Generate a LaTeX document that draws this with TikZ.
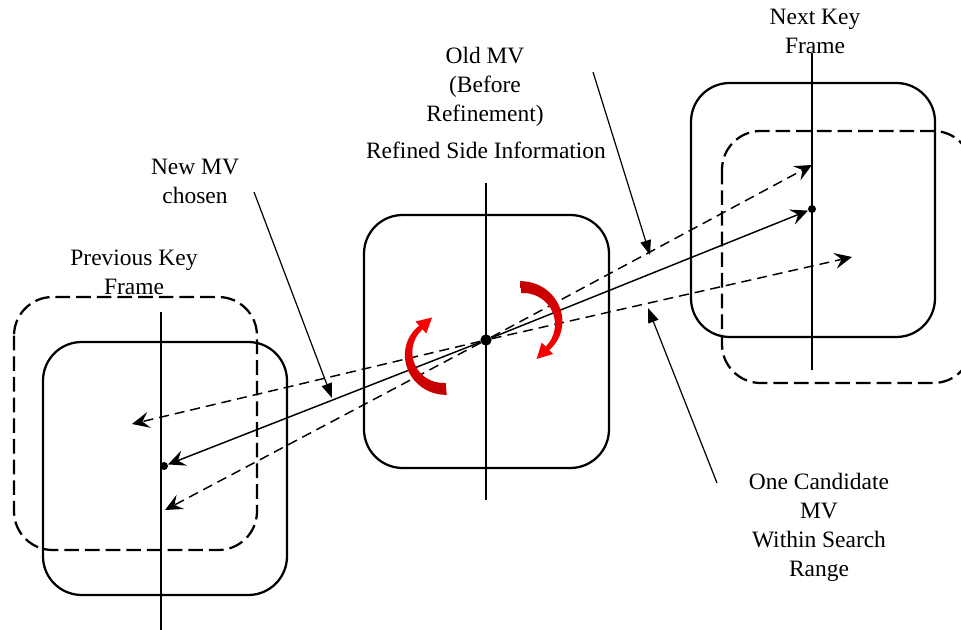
\documentclass[tikz,border=0pt]{standalone}
\usepackage{fontspec}
\setmainfont{Liberation Serif}
\usetikzlibrary{arrows.meta,calc}
\definecolor{arrowdark}{RGB}{192,0,0}
\definecolor{arrowbright}{RGB}{255,0,0}
\begin{document}
\begin{tikzpicture}[x=0.75pt,y=-0.75pt,
  framebox/.style={line width=1.7pt, rounded corners=29pt},
  dashbox/.style={framebox, dash pattern=on 11pt off 4.5pt},
  axisline/.style={line width=0.9pt},
  mvline/.style={line width=1.1pt, -{Stealth[length=13pt,width=12pt,inset=5pt]}},
  mvdash/.style={mvline, dash pattern=on 7.5pt off 4.5pt},
  pointer/.style={line width=0.9pt, -{Triangle[length=11pt,width=8pt]}},
  dot/.style={circle, fill=black, inner sep=0pt, minimum size=#1},
  lbl/.style={font=\fontsize{17.6pt}{21.75pt}\selectfont, align=center, inner sep=0pt}
]
\useasboundingbox (0,0) rectangle (961,630);
\clip (0,0) rectangle (961,630);

% key frames and the side-information block
\draw[dashbox]  (14,297) rectangle (257,550);
\draw[framebox] (43,342) rectangle (287,595);
\draw[framebox] (364,215) rectangle (609,468);
\draw[framebox] (691,83) rectangle (935,337);
\draw[dashbox]  (722,131) rectangle (972,383);

% vertical axes
\draw[axisline] (161,312) -- (161,632);
\draw[axisline] (486,183) -- (486,500);
\draw[axisline] (812,53) -- (812,370);

% block centres
\node[dot=8.5pt] (c)  at (486,340) {};
\node[dot=6pt]   (pl) at (164,466) {};
\node[dot=6pt]   (nr) at (812,209) {};
\coordinate (pa) at (132,424);
\coordinate (pb) at (165,510);
\coordinate (na) at (852,257);
\coordinate (nb) at (812,165);

% motion vectors through the centre
\draw[mvline] (c) -- (pl);
\draw[mvline] (c) -- (nr);
\draw[mvdash] (c) -- (pa);
\draw[mvdash] (c) -- (na);
\draw[mvdash] (c) -- (pb);
\draw[mvdash] (c) -- (nb);

% rotation arrows (refinement)
\shade[top color=arrowbright, bottom color=arrowdark]
  plot[domain=85:228, samples=30]
    ({443+(43-7.5*(\x-85)/143)*cos(\x)}, {352+(43-7.5*(\x-85)/143)*sin(\x)})
  -- ($(443,352)+(228:41)$)
  -- ($(443,352)+(228:33)+(318:15)$)
  -- ($(443,352)+(228:25)$)
  -- plot[domain=228:85, samples=30]
    ({443+(31-0.5*(\x-85)/143)*cos(\x)}, {352+(31-0.5*(\x-85)/143)*sin(\x)})
  -- cycle;
\shade[top color=arrowdark, bottom color=arrowbright]
  plot[domain=265:405, samples=30]
    ({524+(44-8.5*(\x-265)/140)*cos(\x)}, {325+(44-8.5*(\x-265)/140)*sin(\x)})
  -- ($(524,325)+(405:41)$)
  -- ($(524,325)+(405:33)+(135:15)$)
  -- ($(524,325)+(405:25)$)
  -- plot[domain=405:265, samples=30]
    ({524+(32-1.5*(\x-265)/140)*cos(\x)}, {325+(32-1.5*(\x-265)/140)*sin(\x)})
  -- cycle;

% labels
\node[lbl] (prevlbl) at (134,272) {Previous Key\\Frame};
\node[lbl] (newlbl)  at (195,181) {New MV\\chosen};
\node[lbl] (oldlbl)  at (485,87)  {Old MV\\(Before\\Refinement)};
\node[lbl] (reflbl)  at (486,150) {Refined Side Information};
\node[lbl] (nextlbl) at (815,31)  {Next Key\\Frame};
\node[lbl] (candlbl) at (819,527) {One Candidate\\MV\\Within Search\\Range};

% pointers from labels
\coordinate (newfrom)  at (254,192);
\coordinate (newto)    at (332,398);
\coordinate (oldfrom)  at (593,72);
\coordinate (oldto)    at (650,255);
\coordinate (candfrom) at (717,483);
\coordinate (candto)   at (648,308);
\draw[pointer] (newfrom) -- (newto);
\draw[pointer] (oldfrom) -- (oldto);
\draw[pointer] (candfrom) -- (candto);
\end{tikzpicture}
\end{document}
